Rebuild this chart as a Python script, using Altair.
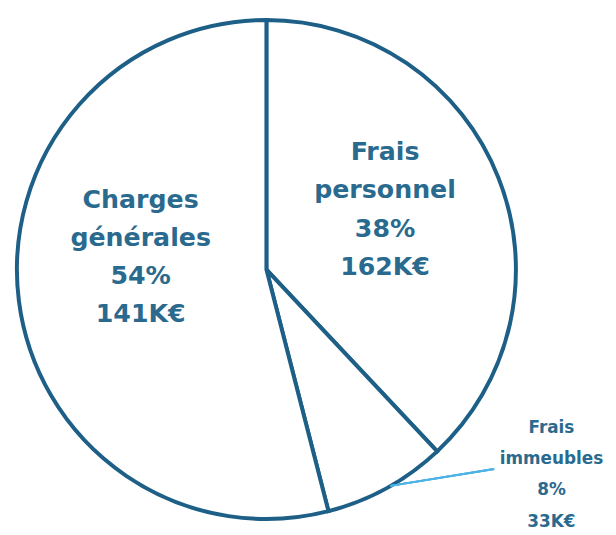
import altair as alt
import pandas as pd

# Data
names = ["Frais personnel", "Frais immeubles", "Charges générales"]
name_lines = [["Frais", "personnel"], ["Frais", "immeubles"], ["Charges", "générales"]]
percents = [38, 8, 54]
amounts = ["162K€", "33K€", "141K€"]

labels = ["\n".join(nl + [f"{p}%", a]) for nl, p, a in zip(name_lines, percents, amounts)]
df = pd.DataFrame({"name": names, "pct": percents, "label": labels, "idx": list(range(len(names)))})

STROKE = "#1D5F86"
TEXT = "#2A6A8E"
LEADER = "#4DB3E6"
FONT = "DejaVu Sans"

theta = alt.Theta("pct:Q", stack=True)
order = alt.Order("idx:Q")

base = alt.Chart(df)

arcs = base.mark_arc(radius=252, stroke=STROKE, strokeWidth=4, fill="white").encode(
    theta=theta, order=order
)


def label_layer(name, radius, dx, dy, size, line_height):
    return base.transform_calculate(
        t=f"datum.name == '{name}' ? datum.label : ''"
    ).mark_text(
        radius=radius, dx=dx, dy=dy, fontSize=size, lineHeight=line_height,
        font=FONT, fontWeight="bold", color=TEXT, lineBreak="\n",
        align="center", baseline="middle",
    ).encode(theta=theta, order=order, text="t:N")


lab_pers = label_layer("Frais personnel", 131, -2, -70, 25.5, 38.5)
lab_gen = label_layer("Charges générales", 124, -4, -86, 25.5, 38.5)
lab_imm = label_layer("Frais immeubles", 253, 166, -62, 17, 31.7)

leader = alt.Chart(df).mark_rule(color=LEADER, strokeWidth=2).encode(
    x=alt.value(383), y=alt.value(479), x2=alt.value(488), y2=alt.value(462)
)

chart = alt.layer(arcs, leader, lab_pers, lab_gen, lab_imm).properties(
    width=516, height=521,
    autosize=alt.AutoSizeParams(type="none"),
    padding={"left": 3, "top": 1, "right": 87, "bottom": 5},
).configure_view(stroke=None)

chart.save("out.html", embed_options={"renderer": "svg", "actions": False})
